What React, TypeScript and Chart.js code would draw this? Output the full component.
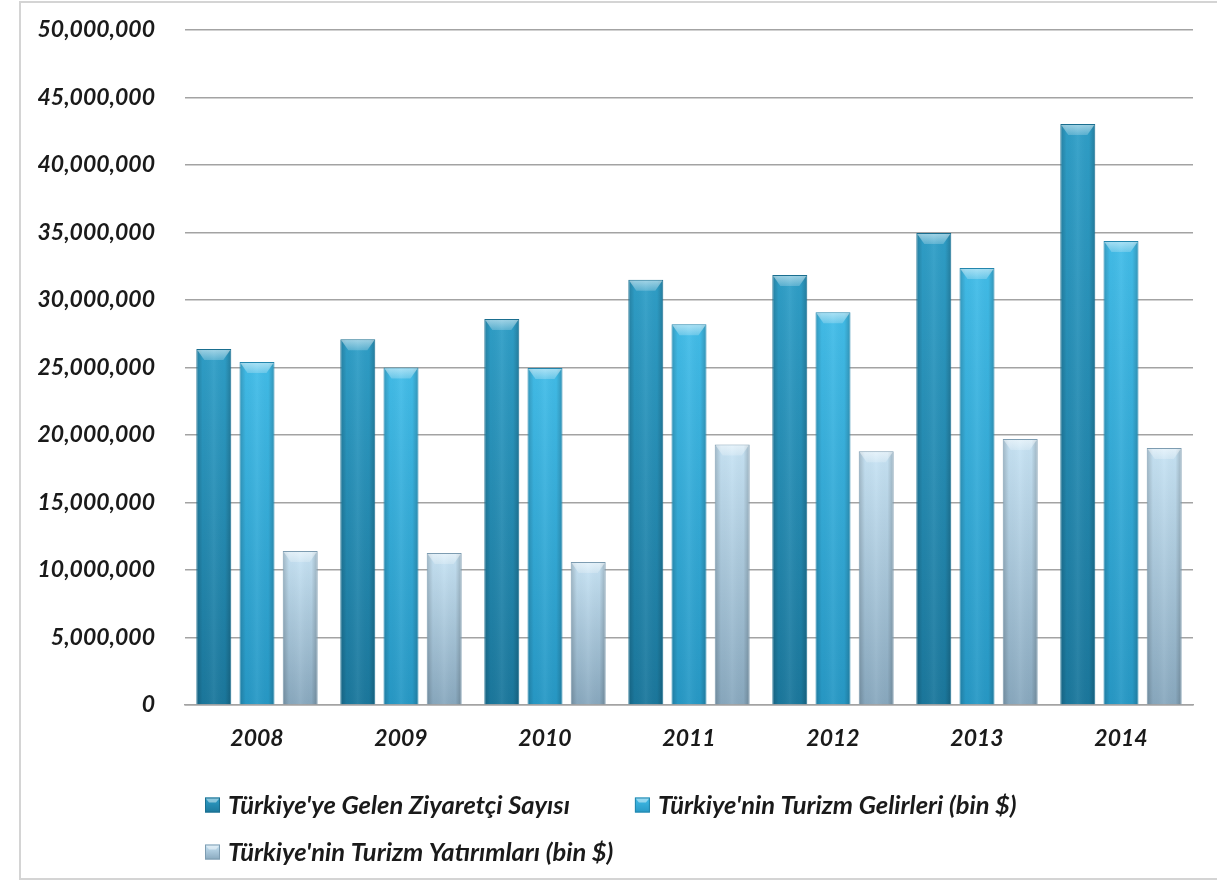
import React, { useEffect, useRef } from "react";
import { Chart, registerables } from "chart.js";

Chart.register(...registerables);

const categories = ["2008", "2009", "2010", "2011", "2012", "2013", "2014"];
const seriesLabels = [
  "Türkiye'ye Gelen Ziyaretçi Sayısı",
  "Türkiye'nin Turizm Gelirleri (bin $)",
  "Türkiye'nin Turizm Yatırımları (bin $)",
];
const visitors = [26370000, 27100000, 28600000, 31500000, 31850000, 34960000, 43040000];
const revenues = [25400000, 25000000, 24960000, 28200000, 29100000, 32370000, 34370000];
const investments = [11400000, 11260000, 10600000, 19300000, 18800000, 19700000, 19040000];
const yMin = 0;
const yMax = 50000000;
const yStep = 5000000;

const palette = [
  { top: "#2f9fc8", bottom: "#1b789d", border: "#1a6e8f" },
  { top: "#42bde9", bottom: "#2799c6", border: "#2386ad" },
  { top: "#c8e4f5", bottom: "#89a9bf", border: "#7d9cb1" },
];

const FONT_FAMILY = "Lato, 'Open Sans', sans-serif";

function barGradient(i: number) {
  return (ctx: any) => {
    const chart = ctx.chart;
    const y = chart.scales?.y;
    const c = palette[i];
    if (!y || ctx.raw == null) return c.top;
    const top = y.getPixelForValue(ctx.raw);
    const bottom = y.getPixelForValue(0);
    if (!isFinite(top) || !isFinite(bottom) || top === bottom) return c.top;
    const g = chart.ctx.createLinearGradient(0, top, 0, bottom);
    g.addColorStop(0, c.top);
    g.addColorStop(1, c.bottom);
    return g;
  };
}

const shadePlugin = {
  id: "barShade",
  afterDatasetsDraw(chart: any) {
    const { ctx } = chart;
    chart.data.datasets.forEach((_: any, di: number) => {
      const meta = chart.getDatasetMeta(di);
      meta.data.forEach((bar: any) => {
        const { x, y, width, base } = bar.getProps(["x", "y", "width", "base"], true);
        const left = x - width / 2;
        const right = x + width / 2;
        ctx.save();
        const hg = ctx.createLinearGradient(left, 0, right, 0);
        hg.addColorStop(0, "rgba(0,0,0,0.20)");
        hg.addColorStop(0.18, "rgba(0,0,0,0.02)");
        hg.addColorStop(0.5, "rgba(255,255,255,0.06)");
        hg.addColorStop(0.82, "rgba(0,0,0,0.02)");
        hg.addColorStop(1, "rgba(0,0,0,0.22)");
        ctx.fillStyle = hg;
        ctx.fillRect(left + 1, y + 1, width - 2, base - y - 1);
        const bev = Math.min(11, (base - y) / 3);
        ctx.beginPath();
        ctx.moveTo(left + 1, y + 1);
        ctx.lineTo(right - 1, y + 1);
        ctx.lineTo(right - 8, y + bev);
        ctx.lineTo(left + 8, y + bev);
        ctx.closePath();
        const vg = ctx.createLinearGradient(0, y, 0, y + bev);
        vg.addColorStop(0, "rgba(255,255,255,0.55)");
        vg.addColorStop(1, "rgba(255,255,255,0.2)");
        ctx.fillStyle = vg;
        ctx.fill();
        ctx.restore();
      });
    });
  },
};

const legendPlugin = {
  id: "customLegend",
  afterDraw(chart: any) {
    const { ctx, chartArea } = chart;
    ctx.save();
    ctx.font = `italic bold 25.5px ${FONT_FAMILY}`;
    ctx.textBaseline = "middle";
    ctx.textAlign = "left";
    const startX = chartArea.left + 20;
    let x = startX;
    let y = chartArea.bottom + 100;
    const gap = 65;
    const box = 15;
    const textOff = 23;
    const rowH = 47;
    chart.data.datasets.forEach((ds: any, i: number) => {
      const itemW = textOff + ctx.measureText(ds.label).width;
      if (x + itemW > chartArea.right && x > startX) {
        x = startX;
        y += rowH;
      }
      const c = palette[i];
      const g = ctx.createLinearGradient(0, y - box / 2, 0, y + box / 2);
      g.addColorStop(0, c.top);
      g.addColorStop(1, c.bottom);
      ctx.fillStyle = g;
      ctx.fillRect(x, y - box / 2, box, box);
      ctx.beginPath();
      ctx.moveTo(x, y - box / 2);
      ctx.lineTo(x + box, y - box / 2);
      ctx.lineTo(x + box - 4, y - box / 2 + 5);
      ctx.lineTo(x + 4, y - box / 2 + 5);
      ctx.closePath();
      ctx.fillStyle = "rgba(255,255,255,0.45)";
      ctx.fill();
      ctx.strokeStyle = c.border;
      ctx.lineWidth = 1;
      ctx.strokeRect(x + 0.5, y - box / 2 + 0.5, box - 1, box - 1);
      ctx.fillStyle = "#1a1a1a";
      ctx.fillText(ds.label, x + textOff, y + 1);
      x += itemW + gap;
    });
    ctx.restore();
  },
};

export default function App() {
  const ref = useRef<HTMLCanvasElement>(null);
  useEffect(() => {
    document.body.style.margin = "0";
    const canvas = ref.current!;
    const tickFont = { family: FONT_FAMILY, size: 23, weight: "bold" as const, style: "italic" as const };
    const seriesData = [visitors, revenues, investments];
    const chart = new Chart(canvas, {
      type: "bar",
      data: {
        labels: categories,
        datasets: seriesData.map((d, i) => ({
          label: seriesLabels[i],
          data: d,
          backgroundColor: barGradient(i),
          borderColor: palette[i].border,
          borderWidth: 1,
          categoryPercentage: 0.9,
          barPercentage: 0.81,
        })),
      },
      options: {
        responsive: false,
        animation: false,
        devicePixelRatio: 1,
        layout: { padding: { left: 0, top: 30, right: 24, bottom: 0 } },
        plugins: {
          legend: { display: false },
          tooltip: { enabled: false },
        },
        scales: {
          x: {
            grid: { display: false, drawTicks: false },
            border: { display: true, color: "#a3a3a3", width: 1.5 },
            ticks: { font: tickFont, color: "#1a1a1a", padding: 20 },
            afterFit: (s: any) => {
              s.height = 176;
              s.paddingLeft = 0;
              s.paddingRight = 0;
            },
          },
          y: {
            min: yMin,
            max: yMax,
            ticks: {
              stepSize: yStep,
              font: tickFont,
              color: "#1a1a1a",
              padding: 30,
              callback: (v: any) => Number(v).toLocaleString("en-US"),
            },
            grid: { color: "#a3a3a3", lineWidth: 1.5, drawTicks: false },
            border: { display: false },
            afterFit: (s: any) => {
              s.width = 185;
              s.paddingTop = 0;
              s.paddingBottom = 0;
            },
          },
        },
      },
      plugins: [shadePlugin, legendPlugin],
    });
    return () => chart.destroy();
  }, []);
  return (
    <div style={{ position: "relative", width: 1217, height: 881, background: "#fff", overflow: "hidden" }}>
      <canvas ref={ref} width={1217} height={881} style={{ position: "absolute", left: 0, top: 0, width: 1217, height: 881 }} />
      <div
        style={{
          position: "absolute",
          left: 19,
          top: 1,
          width: 1210,
          height: 875,
          border: "2px solid #d4d4d4",
          pointerEvents: "none",
        }}
      />
    </div>
  );
}
